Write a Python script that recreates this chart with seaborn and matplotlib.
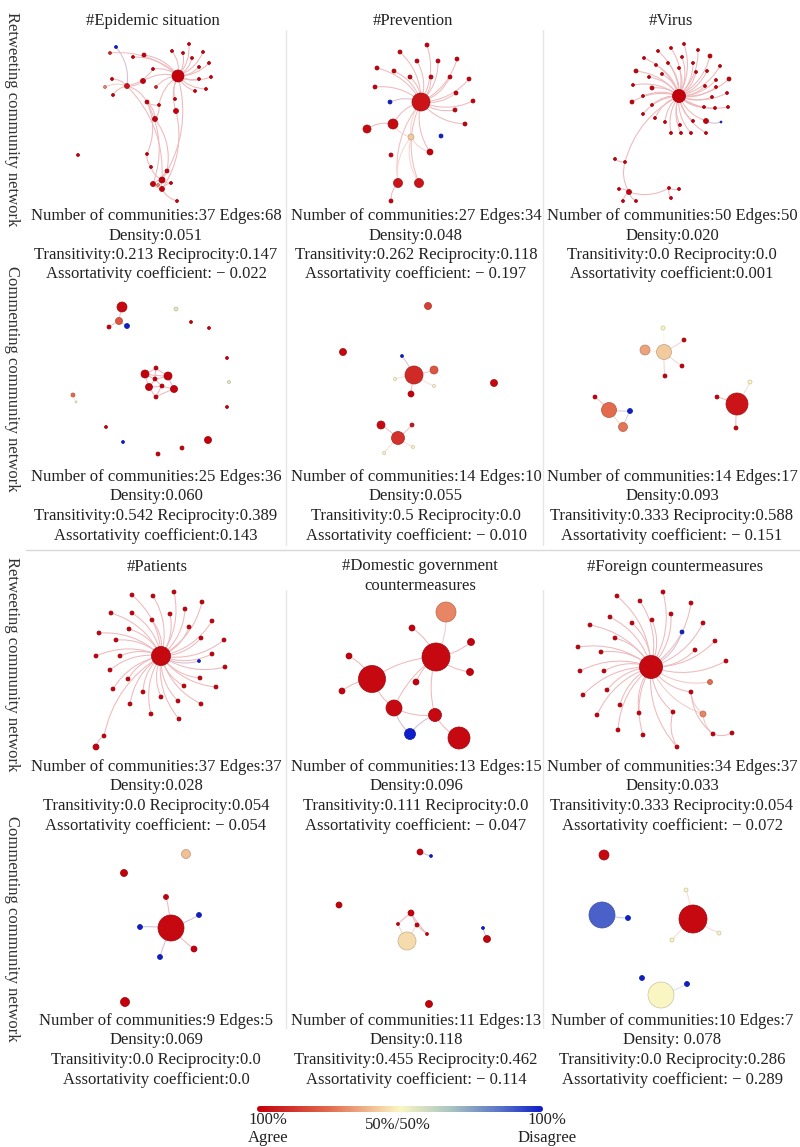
import numpy as np
import pandas as pd
import matplotlib
matplotlib.use("Agg")
import matplotlib.pyplot as plt
import seaborn as sns
from matplotlib.colors import LinearSegmentedColormap, Normalize
from matplotlib.patches import FancyArrowPatch, FancyBboxPatch

sns.set_theme(style="white")
plt.rcParams["font.family"] = ["Liberation Serif", "DejaVu Serif"]

# ---------------------------------------------------------------------------
# Network data: nodes are (layout x, layout y, node diameter, disagree share),
# where disagree share 0 = 100% agree, 1 = 100% disagree.
# Edges are index pairs into the node list.
# ---------------------------------------------------------------------------

EPI_RT_NODES = [
    (178, 76, 12, 0.0), (116, 47, 3, 1.0), (110, 53, 3, 0.1), (133, 57, 3, 0.0),
    (144, 55, 4, 0.0), (172, 51, 3, 0.0), (183, 53, 3, 0.0), (189, 44, 3, 0.0),
    (203, 52, 3, 0.0), (192, 58, 3, 0.0), (209, 63, 3, 0.0), (199, 67, 3, 0.0),
    (199, 79, 3, 0.0), (211, 77, 3, 0.0), (195, 91, 3, 0.0), (206, 89, 3, 0.0),
    (153, 69, 3, 0.0), (112, 79, 3, 0.0), (143, 81, 5, 0.0), (127, 86, 5, 0.05),
    (156, 87, 3, 0.1), (105, 87, 3, 0.3), (113, 95, 3, 0.0), (175, 99, 3, 0.0),
    (147, 102, 4, 0.0), (159, 105, 3, 0.0), (176, 111, 5, 0.0), (155, 119, 5, 0.0),
    (78, 155, 3, 0.0), (147, 154, 3, 0.0), (151, 167, 3, 0.0), (167, 171, 4, 0.0),
    (162, 180, 6, 0.0), (153, 184, 5, 0.0), (171, 183, 3, 0.0), (162, 189, 5, 0.0),
    (177, 201, 3, 0.0), (158, 185, 3, 0.3),
]
EPI_RT_EDGES = (
    [(0, k) for k in (2, 3, 4, 5, 6, 7, 8, 9, 10, 11, 12, 13, 14, 15, 16, 18, 20, 23, 25, 26)]
    + [(19, k) for k in (1, 17, 21, 22, 18, 16)]
    + [(24, 19), (24, 25), (27, 25), (27, 24), (32, 0), (32, 19), (33, 24), (35, 26),
       (31, 27), (29, 24), (29, 30), (30, 32), (31, 32), (32, 33), (32, 34), (32, 35),
       (33, 35), (34, 35), (35, 36), (32, 37), (33, 37)]
)

PREV_RT_NODES = [
    (421, 102, 18, 0.05), (427, 45, 4, 0.0), (400, 52, 4, 0.0), (417, 61, 4, 0.0),
    (438, 61, 4, 0.0), (457, 59, 4, 0.0), (377, 68, 4, 0.0), (394, 71, 4, 0.0),
    (410, 77, 4, 0.0), (431, 77, 4, 0.0), (450, 77, 4, 0.0), (469, 79, 4, 0.0),
    (375, 87, 4, 0.0), (456, 93, 4, 0.0), (473, 101, 4, 0.0), (390, 102, 4, 1.0),
    (455, 110, 4, 0.0), (465, 124, 4, 0.0), (393, 124, 10, 0.02), (367, 129, 8, 0.02),
    (411, 137, 6, 0.42), (441, 136, 4, 1.0), (430, 152, 6, 0.0), (391, 155, 4, 0.0),
    (398, 183, 9, 0.05), (419, 183, 9, 0.05), (391, 201, 4, 0.0),
]
PREV_RT_EDGES = (
    [(0, k) for k in range(1, 18)]
    + [(0, 18), (0, 20), (0, 22), (0, 24), (0, 25), (18, 19), (18, 20),
       (20, 24), (20, 25), (24, 26), (20, 22)]
)

VIRUS_RT_NODES = [
    (679, 96, 13, 0.0), (684, 44, 3, 0.0), (658, 51, 3, 0.0), (671, 48, 3, 0.0),
    (698, 50, 3, 0.0), (644, 58, 3, 0.0), (668, 63, 3, 0.0), (682, 57, 3, 0.0),
    (693, 63, 3, 0.0), (710, 56, 4, 0.0), (636, 71, 4, 0.0), (656, 65, 3, 0.0),
    (679, 68, 3, 0.0), (696, 72, 3, 0.0), (707, 71, 3, 0.0), (720, 66, 3, 0.0),
    (649, 77, 3, 0.0), (662, 74, 3, 0.0), (716, 80, 3, 0.0), (729, 79, 4, 0.0),
    (633, 85, 3, 0.0), (652, 88, 4, 0.0), (705, 86, 3, 0.0), (716, 87, 3, 0.0),
    (727, 93, 3, 0.0), (643, 96, 3, 0.0), (712, 97, 3, 0.0), (632, 102, 4, 0.0),
    (652, 105, 3, 0.0), (704, 107, 3, 0.0), (715, 108, 3, 0.0), (728, 107, 3, 0.0),
    (643, 114, 3, 0.0), (655, 118, 3, 0.0), (665, 122, 3, 0.0), (680, 125, 3, 0.0),
    (693, 121, 3, 0.0), (706, 121, 5, 0.0), (721, 122, 2, 1.0), (671, 133, 3, 0.0),
    (681, 133, 3, 0.0), (691, 133, 3, 0.0), (706, 133, 3, 0.0), (615, 159, 3, 0.0),
    (625, 162, 3, 0.0), (619, 189, 3, 0.0), (629, 192, 5, 0.0), (623, 201, 3, 0.0),
    (636, 201, 3, 0.0), (669, 188, 3, 0.0), (679, 189, 3, 0.0), (671, 198, 3, 0.0),
]
VIRUS_RT_EDGES = (
    [(0, k) for k in range(1, 38)] + [(0, k) for k in range(39, 43)]
    + [(37, 38), (0, 44), (43, 44), (44, 46), (46, 45), (46, 47), (46, 48),
       (46, 49), (49, 50), (49, 51)]
)

EPI_CM_NODES = [
    (122, 307, 10, 0.02), (119, 321, 7, 0.2), (127, 326, 5, 1.0), (109, 327, 4, 0.0),
    (176, 309, 4, 0.55), (191, 322, 3, 0.0), (209, 328, 3, 0.0), (227, 358, 3, 0.0),
    (229, 382, 3, 0.55), (227, 407, 3, 0.0), (145, 374, 8, 0.0), (168, 376, 8, 0.0),
    (156, 368, 4, 0.0), (155, 379, 4, 0.0), (149, 387, 7, 0.0), (162, 386, 4, 0.0),
    (174, 389, 7, 0.0), (156, 397, 4, 0.0), (73, 395, 4, 0.25), (76, 402, 2, 0.5),
    (106, 427, 3, 0.0), (123, 442, 3, 1.0), (208, 440, 7, 0.0), (182, 448, 4, 0.0),
    (158, 454, 4, 0.0),
]
EPI_CM_EDGES = [
    (0, 1), (1, 2), (1, 3), (18, 19), (10, 12), (10, 13), (10, 14), (10, 11),
    (12, 11), (13, 11), (13, 15), (15, 16), (11, 16), (14, 17), (14, 13),
    (15, 17), (12, 13), (14, 15), (16, 17),
]

PREV_CM_NODES = [
    (414, 375, 18, 0.1), (428, 306, 7, 0.15), (343, 352, 7, 0.02), (402, 356, 3, 1.0),
    (434, 370, 8, 0.2), (494, 383, 7, 0.02), (395, 379, 3, 0.5), (434, 386, 3, 0.5),
    (411, 394, 6, 0.0), (381, 425, 8, 0.02), (412, 425, 4, 0.05), (398, 438, 13, 0.12),
    (384, 453, 3, 0.5), (413, 447, 3, 0.5),
]
PREV_CM_EDGES = [(0, 3), (0, 4), (0, 6), (0, 7), (0, 8),
                 (11, 9), (11, 10), (11, 12), (11, 13)]

VIRUS_CM_NODES = [
    (663, 328, 4, 0.5), (645, 350, 10, 0.35), (664, 352, 15, 0.42), (684, 340, 4, 0.0),
    (682, 366, 4, 0.0), (665, 376, 4, 0.0), (595, 397, 4, 0.0), (609, 410, 15, 0.25),
    (630, 411, 5, 1.0), (623, 427, 9, 0.27), (717, 397, 4, 0.0), (737, 404, 22, 0.05),
    (750, 382, 4, 0.5), (736, 428, 4, 0.0),
]
VIRUS_CM_EDGES = [(1, 2), (2, 0), (2, 3), (2, 4), (2, 5), (7, 6), (7, 8), (7, 9),
                  (11, 10), (11, 12), (11, 13), (8, 9)]

PAT_RT_NODES = [
    (161, 656, 19, 0.02), (132, 595, 4, 0.0), (153, 596, 4, 0.0), (174, 592, 4, 0.0),
    (202, 602, 4, 0.0), (111, 613, 4, 0.0), (132, 613, 4, 0.0), (152, 620, 4, 0.0),
    (170, 614, 4, 0.0), (185, 609, 4, 0.0), (212, 621, 4, 0.0), (99, 633, 4, 0.0),
    (129, 629, 4, 0.0), (189, 627, 4, 0.0), (116, 640, 4, 0.0), (201, 638, 4, 0.0),
    (224, 640, 4, 0.0), (96, 656, 4, 0.0), (120, 656, 4, 0.0), (212, 654, 4, 0.0),
    (199, 661, 3, 1.0), (225, 667, 4, 0.0), (110, 670, 4, 0.0), (128, 679, 4, 0.0),
    (200, 678, 4, 0.0), (184, 686, 4, 0.0), (216, 687, 4, 0.0), (113, 689, 4, 0.0),
    (143, 692, 4, 0.0), (161, 697, 4, 0.0), (178, 701, 4, 0.0), (130, 704, 4, 0.0),
    (201, 704, 4, 0.0), (151, 714, 4, 0.0), (179, 719, 4, 0.0), (104, 736, 4, 0.0),
    (96, 747, 6, 0.0),
]
PAT_RT_EDGES = [(0, k) for k in range(1, 36)] + [(35, 36)]

DOM_RT_NODES = [
    (446, 612, 20, 0.3), (412, 628, 6, 0.0), (471, 642, 7, 0.0), (349, 656, 6, 0.0),
    (436, 657, 28, 0.02), (470, 672, 7, 0.0), (372, 679, 27, 0.02), (416, 682, 6, 0.0),
    (342, 691, 6, 0.0), (394, 708, 16, 0.02), (435, 715, 13, 0.02), (410, 734, 11, 1.0),
    (459, 738, 22, 0.02),
]
DOM_RT_EDGES = [(4, 0), (4, 1), (4, 2), (4, 5), (4, 7), (4, 6), (6, 3), (6, 8), (6, 9),
                (9, 10), (9, 11), (10, 11), (10, 12), (4, 10), (4, 9)]

FOR_RT_NODES = [
    (651, 667, 23, 0.02), (617, 596, 4, 0.0), (663, 592, 4, 0.0), (640, 601, 4, 0.0),
    (691, 603, 4, 0.0), (671, 614, 4, 0.0), (610, 617, 4, 0.0), (632, 623, 4, 0.0),
    (652, 620, 4, 0.0), (703, 623, 4, 0.0), (682, 632, 4, 1.0), (590, 625, 4, 0.0),
    (615, 638, 4, 0.0), (715, 641, 4, 0.0), (578, 647, 4, 0.0), (601, 652, 4, 0.0),
    (695, 650, 4, 0.0), (726, 661, 4, 0.0), (580, 671, 4, 0.0), (604, 671, 4, 0.0),
    (710, 682, 5, 0.25), (607, 690, 4, 0.0), (691, 692, 4, 0.0), (583, 695, 4, 0.0),
    (620, 705, 4, 0.0), (673, 712, 4, 0.0), (639, 713, 4, 0.0), (703, 714, 6, 0.3),
    (597, 715, 4, 0.0), (618, 730, 4, 0.0), (643, 735, 4, 0.0), (713, 734, 4, 0.0),
    (732, 733, 4, 0.0), (677, 747, 4, 0.0),
]
FOR_RT_EDGES = ([(0, k) for k in range(1, 31) if k != 10]
                + [(0, 10), (27, 31), (31, 32), (22, 27), (25, 33), (0, 33), (22, 31)])

PAT_CM_NODES = [
    (186, 854, 9, 0.4), (124, 873, 7, 0.0), (166, 897, 5, 0.0), (171, 928, 26, 0.02),
    (140, 927, 5, 1.0), (199, 915, 5, 1.0), (194, 949, 6, 0.0), (160, 957, 5, 1.0),
    (125, 1002, 9, 0.0),
]
PAT_CM_EDGES = [(3, 2), (3, 4), (3, 5), (3, 6), (3, 7)]

DOM_CM_NODES = [
    (420, 852, 6, 0.0), (431, 856, 3, 1.0), (339, 905, 6, 0.0), (411, 913, 6, 0.0),
    (398, 924, 3, 0.0), (417, 925, 4, 0.0), (427, 934, 3, 0.0), (407, 941, 18, 0.45),
    (483, 928, 3, 1.0), (487, 939, 7, 0.0), (429, 1004, 7, 0.0),
]
DOM_CM_EDGES = [(3, 4), (3, 5), (3, 6), (5, 6), (4, 7), (0, 1), (8, 9), (5, 7)]

FOR_CM_NODES = [
    (604, 855, 10, 0.02), (602, 915, 26, 0.88), (628, 918, 5, 1.0), (693, 919, 28, 0.02),
    (686, 890, 4, 0.5), (719, 933, 4, 0.5), (672, 940, 4, 0.5), (642, 978, 5, 1.0),
    (687, 984, 5, 1.0), (661, 995, 26, 0.5),
]
FOR_CM_EDGES = [(1, 2), (3, 4), (3, 5), (3, 6), (9, 8)]

# Panel statistics
EPI_RT_STATS = ["Number of communities:37 Edges:68", "Density:0.051",
                "Transitivity:0.213 Reciprocity:0.147", "Assortativity coefficient: \u2212 0.022"]
PREV_RT_STATS = ["Number of communities:27 Edges:34", "Density:0.048",
                 "Transitivity:0.262 Reciprocity:0.118", "Assortativity coefficient: \u2212 0.197"]
VIRUS_RT_STATS = ["Number of communities:50 Edges:50", "Density:0.020",
                  "Transitivity:0.0 Reciprocity:0.0", "Assortativity coefficient:0.001"]
EPI_CM_STATS = ["Number of communities:25 Edges:36", "Density:0.060",
                "Transitivity:0.542 Reciprocity:0.389", "Assortativity coefficient:0.143"]
PREV_CM_STATS = ["Number of communities:14 Edges:10", "Density:0.055",
                 "Transitivity:0.5 Reciprocity:0.0", "Assortativity coefficient: \u2212 0.010"]
VIRUS_CM_STATS = ["Number of communities:14 Edges:17", "Density:0.093",
                  "Transitivity:0.333 Reciprocity:0.588", "Assortativity coefficient: \u2212 0.151"]
PAT_RT_STATS = ["Number of communities:37 Edges:37", "Density:0.028",
                "Transitivity:0.0 Reciprocity:0.054", "Assortativity coefficient: \u2212 0.054"]
DOM_RT_STATS = ["Number of communities:13 Edges:15", "Density:0.096",
                "Transitivity:0.111 Reciprocity:0.0", "Assortativity coefficient: \u2212 0.047"]
FOR_RT_STATS = ["Number of communities:34 Edges:37", "Density:0.033",
                "Transitivity:0.333 Reciprocity:0.054", "Assortativity coefficient: \u2212 0.072"]
PAT_CM_STATS = ["Number of communities:9 Edges:5", "Density:0.069",
                "Transitivity:0.0 Reciprocity:0.0", "Assortativity coefficient:0.0"]
DOM_CM_STATS = ["Number of communities:11 Edges:13", "Density:0.118",
                "Transitivity:0.455 Reciprocity:0.462", "Assortativity coefficient: \u2212 0.114"]
FOR_CM_STATS = ["Number of communities:10 Edges:7", "Density: 0.078",
                "Transitivity:0.0 Reciprocity:0.286", "Assortativity coefficient: \u2212 0.289"]

TOPICS_TOP = ["#Epidemic situation", "#Prevention", "#Virus"]
TOPICS_BOTTOM = ["#Patients", "#Domestic government\ncountermeasures", "#Foreign countermeasures"]
ROW_LABELS = ["Retweeting community network", "Commenting community network"]
SCALE_LABELS = ["100%\nAgree", "50%/50%", "100%\nDisagree"]

# ---------------------------------------------------------------------------
# Drawing
# ---------------------------------------------------------------------------
W, H = 800, 1147
FONT = 12
CMAP = LinearSegmentedColormap.from_list(
    "agree_disagree",
    [(0.0, "#c4000c"), (0.25, "#e26a4e"), (0.5, "#fbf7c4"),
     (0.68, "#a9c4bf"), (0.85, "#5a74c9"), (1.0, "#0e1ec8")])
NORM = Normalize(0, 1)

fig = plt.figure(figsize=(W / 100, H / 100), dpi=100)
ax = fig.add_axes([0, 0, 1, 1])
ax.set_xlim(0, W)
ax.set_ylim(H, 0)
ax.axis("off")


def lighten(rgb, amount):
    rgb = np.asarray(rgb[:3])
    return tuple(1 - (1 - rgb) * amount)


def draw_network(nodes, edges, rad):
    df = pd.DataFrame(nodes, columns=["x", "y", "diam", "disagree"])
    df["area"] = (df["diam"] * 0.72) ** 2
    fills = CMAP(NORM(df["disagree"].to_numpy()))
    for i, j in edges:
        c = lighten((fills[i] + fills[j]) / 2, 0.28)
        p = FancyArrowPatch((df.x[i], df.y[i]), (df.x[j], df.y[j]),
                            connectionstyle=f"arc3,rad={rad}", arrowstyle="-",
                            color=c, lw=0.75, shrinkA=0, shrinkB=0, zorder=2)
        ax.add_patch(p)
    edge_cols = np.clip(fills[:, :3] * 0.8, 0, 1)
    sns.scatterplot(data=df, x="x", y="y", hue="disagree", size="area",
                    palette=CMAP, hue_norm=(0, 1), sizes=(0, 1000), size_norm=(0, 1000),
                    edgecolor=edge_cols, linewidth=0.5, legend=False, ax=ax, zorder=3)


PANELS = [
    (EPI_RT_NODES, EPI_RT_EDGES, EPI_RT_STATS, 0, 0, 0.22),
    (PREV_RT_NODES, PREV_RT_EDGES, PREV_RT_STATS, 1, 0, 0.22),
    (VIRUS_RT_NODES, VIRUS_RT_EDGES, VIRUS_RT_STATS, 2, 0, 0.22),
    (EPI_CM_NODES, EPI_CM_EDGES, EPI_CM_STATS, 0, 1, 0.05),
    (PREV_CM_NODES, PREV_CM_EDGES, PREV_CM_STATS, 1, 1, 0.05),
    (VIRUS_CM_NODES, VIRUS_CM_EDGES, VIRUS_CM_STATS, 2, 1, 0.05),
    (PAT_RT_NODES, PAT_RT_EDGES, PAT_RT_STATS, 0, 2, 0.22),
    (DOM_RT_NODES, DOM_RT_EDGES, DOM_RT_STATS, 1, 2, 0.15),
    (FOR_RT_NODES, FOR_RT_EDGES, FOR_RT_STATS, 2, 2, 0.22),
    (PAT_CM_NODES, PAT_CM_EDGES, PAT_CM_STATS, 0, 3, 0.05),
    (DOM_CM_NODES, DOM_CM_EDGES, DOM_CM_STATS, 1, 3, 0.05),
    (FOR_CM_NODES, FOR_CM_EDGES, FOR_CM_STATS, 2, 3, 0.05),
]
COL_X = [156, 416, 672]
STATS_Y0 = [216, 477, 767, 1021]
LINE_STEP = 19.5

# separators
for x in (286, 543):
    ax.plot([x, x], [30, 545], color="#e6e6e6", lw=1, zorder=1)
    ax.plot([x, x], [590, 1028], color="#e6e6e6", lw=1, zorder=1)
ax.plot([26, 800], [550, 550], color="#d8d8d8", lw=1, zorder=1)

for nodes, edges, stats, col, row, rad in PANELS:
    draw_network(nodes, edges, rad)
    for k, line in enumerate(stats):
        ax.text(COL_X[col], STATS_Y0[row] + k * LINE_STEP, line, ha="center", va="center",
                fontsize=FONT, color="#222222")

# topic titles
for x, t in zip([153, 413, 671], TOPICS_TOP):
    ax.text(x, 21, t, ha="center", va="center", fontsize=FONT, color="#222222")
for x, t in zip([157, 420, 675], TOPICS_BOTTOM):
    ax.text(x, 576 if "\n" in t else 567, t, ha="center", va="center", fontsize=FONT,
            color="#222222", linespacing=1.25)

# rotated row labels
for y, lab in zip([119, 379, 664, 929], ROW_LABELS * 2):
    ax.text(12, y, lab, rotation=-90, ha="center", va="center", fontsize=FONT,
            color="#333333")

# agree/disagree colour scale
x0, x1, yc, th = 257, 543, 1109, 6
grad = np.linspace(0, 1, 256)[None, :]
img = ax.imshow(grad, cmap=CMAP, aspect="auto",
                extent=(x0, x1, yc + th / 2, yc - th / 2), zorder=3)
clip = FancyBboxPatch((x0, yc - th / 2), x1 - x0, th,
                      boxstyle=f"round,pad=0,rounding_size={th / 2}",
                      transform=ax.transData, facecolor="none", edgecolor="none")
ax.add_patch(clip)
img.set_clip_path(clip)
ax.set_xlim(0, W)
ax.set_ylim(H, 0)

ax.text(268, 1129, SCALE_LABELS[0], ha="center", va="center", fontsize=FONT,
        color="#222222", linespacing=1.2)
ax.text(398, 1125, SCALE_LABELS[1], ha="center", va="center", fontsize=FONT, color="#222222")
ax.text(547, 1129, SCALE_LABELS[2], ha="center", va="center", fontsize=FONT,
        color="#222222", linespacing=1.2)

fig.savefig("out.png", dpi=100, facecolor="white")
